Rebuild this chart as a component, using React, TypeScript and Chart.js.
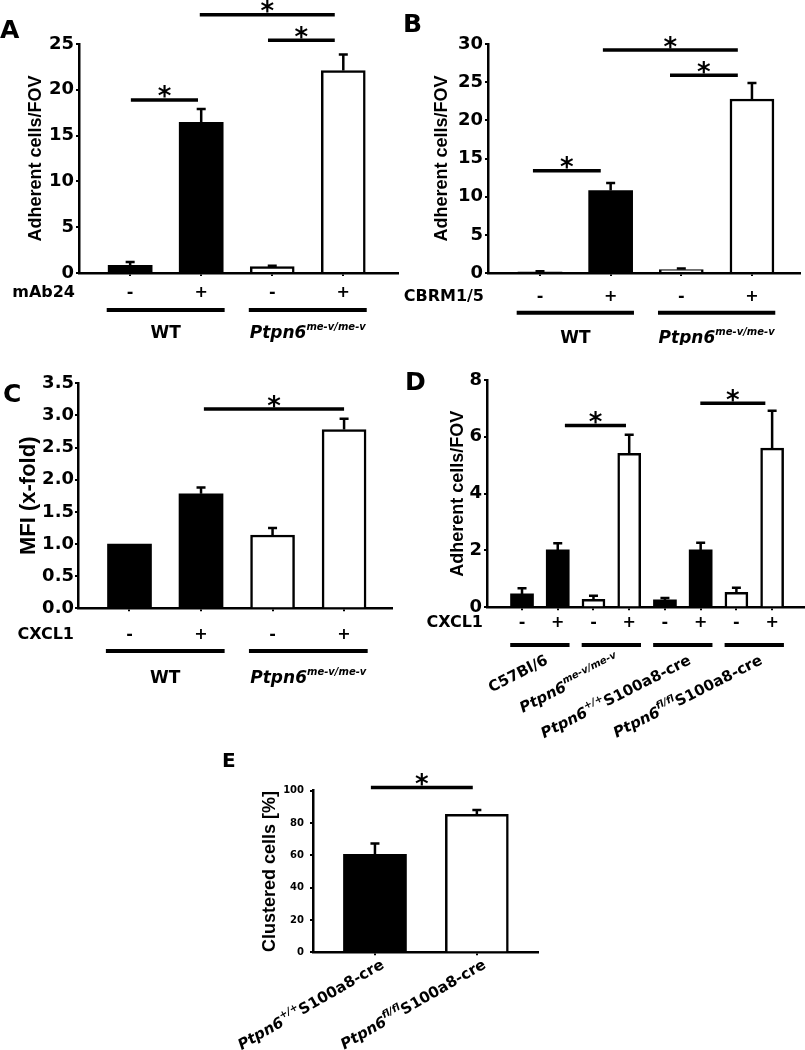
import React, { useEffect, useRef } from 'react';
import { Chart, registerables } from 'chart.js';

Chart.register(...registerables);

const SANS = '"DejaVu Sans", "Liberation Sans", sans-serif';
const TITLE = '"Liberation Sans", Arial, sans-serif';

type Seg = { t: string; it?: boolean; sup?: boolean };

// ---------------- data ----------------
// Panel A
const aSigns = ['-', '+', '-', '+'];
const aValues = [0.85, 16.45, 0.7, 22.1];
const aErrors = [0.35, 1.45, 0.1, 1.75];
const aFills = ['#000', '#000', '#fff', '#fff'];
const aSigFrom = [1.01, 2.94, 1.98];
const aSigTo = [1.955, 3.88, 3.88];
const aSigY = [18.9, 25.4, 28.2];

// Panel B
const bSigns = ['-', '+', '-', '+'];
const bValues = [0.1, 10.8, 0.45, 22.8];
const bErrors = [0.12, 1.0, 0.15, 2.1];
const bFills = ['#000', '#000', '#fff', '#fff'];
const bSigFrom = [0.9, 2.84, 1.89];
const bSigTo = [1.86, 3.8, 3.8];
const bSigY = [13.4, 25.9, 29.2];

// Panel C
const cSigns = ['-', '+', '-', '+'];
const cValues = [1.0, 1.78, 1.14, 2.78];
const cErrors = [0, 0.1, 0.11, 0.17];
const cFills = ['#000', '#000', '#fff', '#fff'];
const cSigFrom = [2.04];
const cSigTo = [4.0];
const cSigY = [3.1];

// Panel D
const dSigns = ['-', '+', '-', '+', '-', '+', '-', '+'];
const dValues = [0.47, 2.02, 0.28, 5.42, 0.26, 2.02, 0.53, 5.6];
const dErrors = [0.2, 0.23, 0.13, 0.65, 0.07, 0.25, 0.16, 1.32];
const dFills = ['#000', '#000', '#fff', '#fff', '#000', '#000', '#fff', '#fff'];
const dSigFrom = [2.2, 5.99];
const dSigTo = [3.91, 7.81];
const dSigY = [6.4, 7.18];

// Panel E
const eSigns: string[] = [];
const eValues = [60.6, 85.4];
const eErrors = [6.8, 2.6];
const eFills = ['#000', '#fff'];
const eSigFrom = [0.96];
const eSigTo = [1.96];
const eSigY = [102];

// group labels
const WT: Seg[] = [{ t: 'WT' }];
const MEV: Seg[] = [{ t: 'Ptpn6', it: true }, { t: 'me-v/me-v', it: true, sup: true }];
const B6: Seg[] = [{ t: 'C57Bl/6' }];
const PP: Seg[] = [{ t: 'Ptpn6', it: true }, { t: '+/+', it: true, sup: true }, { t: 'S100a8-cre' }];
const FF: Seg[] = [{ t: 'Ptpn6', it: true }, { t: 'fl/fl', it: true, sup: true }, { t: 'S100a8-cre' }];

const abcGroupFrom = [1, 3];
const abcGroupTo = [2, 4];
const abcGroupLabels = [WT, MEV];
const dGroupFrom = [1, 3, 5, 7];
const dGroupTo = [2, 4, 6, 8];
const dGroupLabels = [B6, MEV, PP, FF];
const eGroupFrom = [1, 2];
const eGroupTo = [1, 2];
const eGroupLabels = [PP, FF];

// ---------------- panel layout ----------------
interface Panel {
  key: string;
  letter: string; letterX: number; letterY: number; letterSize: number;
  box: number[]; // left, top, width, height (page)
  area: number[]; // left, top, right, bottom (page)
  xMin: number; xMax: number; yMax: number; yStep: number; yDec: number;
  values: number[]; errors: number[]; fills: string[]; signs: string[]; treatment: string;
  sigFrom: number[]; sigTo: number[]; sigY: number[];
  groupFrom: number[]; groupTo: number[]; groupLabels: Seg[][];
  title: string; titleSize: number; titleX: number;
  tickSize: number; tickPad: number; barW: number;
  signOff: number; underOff: number | null; labelOff: number;
  labelSize: number; supSize: number; rise: number; angle: number; labelDx: number;
  starSize: number;
}

const panels: Panel[] = [
  {
    key: 'A', letter: 'A', letterX: 0, letterY: 38, letterSize: 25,
    box: [0, 0, 402, 345], area: [79, 44, 398, 273],
    xMin: 0.28, xMax: 4.77, yMax: 25, yStep: 5, yDec: 0,
    values: aValues, errors: aErrors, fills: aFills, signs: aSigns, treatment: 'mAb24',
    sigFrom: aSigFrom, sigTo: aSigTo, sigY: aSigY,
    groupFrom: abcGroupFrom, groupTo: abcGroupTo, groupLabels: abcGroupLabels,
    title: 'Adherent cells/FOV', titleSize: 18, titleX: 36,
    tickSize: 18, tickPad: 2, barW: 44,
    signOff: 20, underOff: 37, labelOff: 65,
    labelSize: 17, supSize: 10, rise: 8, angle: 0, labelDx: 0, starSize: 26,
  },
  {
    key: 'B', letter: 'B', letterX: 3, letterY: 32, letterSize: 25,
    box: [400, 0, 405, 345], area: [488, 44, 800, 273],
    xMin: 0.264, xMax: 4.68, yMax: 30, yStep: 5, yDec: 0,
    values: bValues, errors: bErrors, fills: bFills, signs: bSigns, treatment: 'CBRM1/5',
    sigFrom: bSigFrom, sigTo: bSigTo, sigY: bSigY,
    groupFrom: abcGroupFrom, groupTo: abcGroupTo, groupLabels: abcGroupLabels,
    title: 'Adherent cells/FOV', titleSize: 18, titleX: 442,
    tickSize: 18, tickPad: 2, barW: 44,
    signOff: 24, underOff: 39.7, labelOff: 69.7,
    labelSize: 17, supSize: 10, rise: 8, angle: 0, labelDx: 0, starSize: 26,
  },
  {
    key: 'C', letter: 'C', letterX: 3, letterY: 57, letterSize: 25,
    box: [0, 345, 402, 345], area: [78, 383.3, 392, 608.3],
    xMin: 0.28, xMax: 4.67, yMax: 3.5, yStep: 0.5, yDec: 1,
    values: cValues, errors: cErrors, fills: cFills, signs: cSigns, treatment: 'CXCL1',
    sigFrom: cSigFrom, sigTo: cSigTo, sigY: cSigY,
    groupFrom: abcGroupFrom, groupTo: abcGroupTo, groupLabels: abcGroupLabels,
    title: 'MFI (x-fold)', titleSize: 22, titleX: 29,
    tickSize: 18, tickPad: 1, barW: 44,
    signOff: 27, underOff: 42.7, labelOff: 74.7,
    labelSize: 17, supSize: 10, rise: 8, angle: 0, labelDx: 0, starSize: 26,
  },
  {
    key: 'D', letter: 'D', letterX: 5, letterY: 45, letterSize: 25,
    box: [400, 345, 405, 420], area: [487, 380, 805, 607.3],
    xMin: 0.02, xMax: 8.92, yMax: 8, yStep: 2, yDec: 0,
    values: dValues, errors: dErrors, fills: dFills, signs: dSigns, treatment: 'CXCL1',
    sigFrom: dSigFrom, sigTo: dSigTo, sigY: dSigY,
    groupFrom: dGroupFrom, groupTo: dGroupTo, groupLabels: dGroupLabels,
    title: 'Adherent cells/FOV', titleSize: 18, titleX: 458,
    tickSize: 18, tickPad: 2, barW: 23,
    signOff: 16, underOff: 37.7, labelOff: 56,
    labelSize: 15, supSize: 10, rise: 7, angle: -27, labelDx: 9, starSize: 26,
  },
  {
    key: 'E', letter: 'E', letterX: 42, letterY: 22, letterSize: 20,
    box: [180, 745, 430, 305], area: [313, 790.7, 538, 952.3],
    xMin: 0.392, xMax: 2.6, yMax: 100, yStep: 20, yDec: 0,
    values: eValues, errors: eErrors, fills: eFills, signs: eSigns, treatment: '',
    sigFrom: eSigFrom, sigTo: eSigTo, sigY: eSigY,
    groupFrom: eGroupFrom, groupTo: eGroupTo, groupLabels: eGroupLabels,
    title: 'Clustered cells [%]', titleSize: 18, titleX: 270,
    tickSize: 10, tickPad: 6, barW: 63,
    signOff: 16, underOff: null, labelOff: 15,
    labelSize: 15, supSize: 10, rise: 7, angle: -30, labelDx: 10, starSize: 26,
  },
];

// ---------------- drawing helpers ----------------
function segFont(s: Seg, size: number, supSize: number) {
  return `${s.it ? 'italic ' : ''}bold ${s.sup ? supSize : size}px ${SANS}`;
}

function drawRich(ctx: CanvasRenderingContext2D, segs: Seg[], x: number, y: number, p: Panel) {
  ctx.save();
  ctx.translate(x, y);
  ctx.rotate((p.angle * Math.PI) / 180);
  let w = 0;
  for (const s of segs) {
    ctx.font = segFont(s, p.labelSize, p.supSize);
    w += ctx.measureText(s.t).width;
  }
  let cx = p.angle === 0 ? -w / 2 : -w;
  ctx.textAlign = 'left';
  ctx.textBaseline = 'alphabetic';
  ctx.fillStyle = '#000';
  for (const s of segs) {
    ctx.font = segFont(s, p.labelSize, p.supSize);
    ctx.fillText(s.t, cx, s.sup ? -p.rise : 0);
    cx += ctx.measureText(s.t).width;
  }
  ctx.restore();
}

function makePlugin(p: Panel) {
  return {
    id: 'annot' + p.key,
    afterDatasetsDraw(chart: any) {
      const ctx: CanvasRenderingContext2D = chart.ctx;
      const xs = chart.scales.x;
      const ys = chart.scales.y;
      ctx.save();
      ctx.strokeStyle = '#000';
      ctx.lineWidth = 2.5;
      p.values.forEach((v, i) => {
        const e = p.errors[i];
        if (!e) return;
        const x = xs.getPixelForValue(i + 1);
        const y0 = ys.getPixelForValue(v);
        const y1 = ys.getPixelForValue(v + e);
        ctx.beginPath();
        ctx.moveTo(x, y0);
        ctx.lineTo(x, y1);
        ctx.moveTo(x - 4.5, y1);
        ctx.lineTo(x + 4.5, y1);
        ctx.stroke();
      });
      ctx.restore();
    },
    afterDraw(chart: any) {
      const ctx: CanvasRenderingContext2D = chart.ctx;
      const xs = chart.scales.x;
      const ys = chart.scales.y;
      const ca = chart.chartArea;
      ctx.save();
      ctx.fillStyle = '#000';
      ctx.strokeStyle = '#000';
      // significance bars
      p.sigY.forEach((yv, i) => {
        const x0 = xs.getPixelForValue(p.sigFrom[i]);
        const x1 = xs.getPixelForValue(p.sigTo[i]);
        const y = ys.getPixelForValue(yv);
        ctx.lineWidth = 3.5;
        ctx.beginPath();
        ctx.moveTo(x0, y);
        ctx.lineTo(x1, y);
        ctx.stroke();
        ctx.font = `bold ${p.starSize}px ${SANS}`;
        const m = ctx.measureText('*');
        const cy = y - 8;
        ctx.textAlign = 'center';
        ctx.textBaseline = 'alphabetic';
        ctx.fillText('*', (x0 + x1) / 2, cy + (m.actualBoundingBoxAscent - m.actualBoundingBoxDescent) / 2);
      });
      // treatment label
      if (p.treatment) {
        ctx.font = `bold 16px ${SANS}`;
        ctx.textAlign = 'right';
        ctx.textBaseline = 'middle';
        ctx.fillText(p.treatment, ca.left - 4, ca.bottom + p.signOff);
      }
      // group underlines and labels
      p.groupFrom.forEach((g0, i) => {
        const g1 = p.groupTo[i];
        if (p.underOff !== null) {
          const ux0 = xs.getPixelForValue(g0 - 0.33);
          const ux1 = xs.getPixelForValue(g1 + 0.33);
          ctx.lineWidth = 4;
          ctx.beginPath();
          ctx.moveTo(ux0, ca.bottom + p.underOff);
          ctx.lineTo(ux1, ca.bottom + p.underOff);
          ctx.stroke();
        }
        const cx = xs.getPixelForValue((g0 + g1) / 2) + p.labelDx;
        drawRich(ctx, p.groupLabels[i], cx, ca.bottom + p.labelOff, p);
      });
      // panel letter
      ctx.font = `bold ${p.letterSize}px ${SANS}`;
      ctx.textAlign = 'left';
      ctx.textBaseline = 'alphabetic';
      ctx.fillText(p.letter, p.letterX, p.letterY);
      ctx.restore();
    },
  };
}

function buildConfig(p: Panel): any {
  const [bl, bt, bw, bh] = p.box;
  const [al, at, ar, ab] = p.area;
  return {
    type: 'bar',
    data: {
      datasets: [
        {
          data: p.values.map((v, i) => ({ x: i + 1, y: v })),
          backgroundColor: p.fills,
          borderColor: '#000',
          borderWidth: p.fills.map((f) => (f === '#fff' ? 2.5 : 0)),
          borderSkipped: 'start',
          barThickness: p.barW,
        },
      ],
    },
    options: {
      responsive: false,
      animation: false,
      devicePixelRatio: 1,
      events: [],
      layout: { padding: { left: 0, top: at - bt, right: bl + bw - ar, bottom: 0 } },
      plugins: { legend: { display: false }, tooltip: { enabled: false }, title: { display: false } },
      scales: {
        x: {
          type: 'linear',
          min: p.xMin,
          max: p.xMax,
          offset: false,
          afterBuildTicks: (s: any) => {
            s.ticks = p.values.map((_, i) => ({ value: i + 1 }));
          },
          afterFit: (s: any) => {
            s.height = bt + bh - ab;
          },
          ticks: {
            autoSkip: false,
            maxRotation: 0,
            minRotation: 0,
            padding: p.signOff - 3 - 9.6,
            color: '#000',
            font: { family: SANS, size: 16, weight: 'bold' },
            callback: (_v: any, i: number) => (p.signs[i] !== undefined ? p.signs[i] : ''),
          },
          grid: { display: true, offset: false, drawOnChartArea: false, drawTicks: true, tickLength: 3, color: '#000', lineWidth: 2 },
          border: { display: true, color: '#000', width: 2.5 },
        },
        y: {
          type: 'linear',
          min: 0,
          max: p.yMax,
          afterFit: (s: any) => {
            s.width = al - bl;
          },
          ticks: {
            stepSize: p.yStep,
            padding: p.tickPad,
            color: '#000',
            font: { family: SANS, size: p.tickSize, weight: 'bold' },
            callback: (v: any) => Number(v).toFixed(p.yDec),
          },
          grid: { display: true, drawOnChartArea: false, drawTicks: true, tickLength: 3, color: '#000', lineWidth: 2 },
          border: { display: true, color: '#000', width: 2.5 },
          title: {
            display: true,
            text: p.title,
            color: '#000',
            font: { family: TITLE, size: p.titleSize, weight: 'bold' },
            padding: { top: p.titleX - bl - (p.titleSize * 1.2) / 2, bottom: 0 },
          },
        },
      },
    },
    plugins: [makePlugin(p)],
  };
}

function PanelChart({ p }: { p: Panel }) {
  const ref = useRef<HTMLCanvasElement>(null);
  useEffect(() => {
    const chart = new Chart(ref.current as HTMLCanvasElement, buildConfig(p));
    return () => chart.destroy();
  }, [p]);
  return (
    <canvas
      ref={ref}
      width={p.box[2]}
      height={p.box[3]}
      style={{ position: 'absolute', left: p.box[0], top: p.box[1], width: p.box[2], height: p.box[3] }}
    />
  );
}

export default function App() {
  return (
    <div style={{ position: 'absolute', left: 0, top: 0, width: 805, height: 1050, overflow: 'hidden', background: '#fff' }}>
      {panels.map((p) => (
        <PanelChart key={p.key} p={p} />
      ))}
    </div>
  );
}
